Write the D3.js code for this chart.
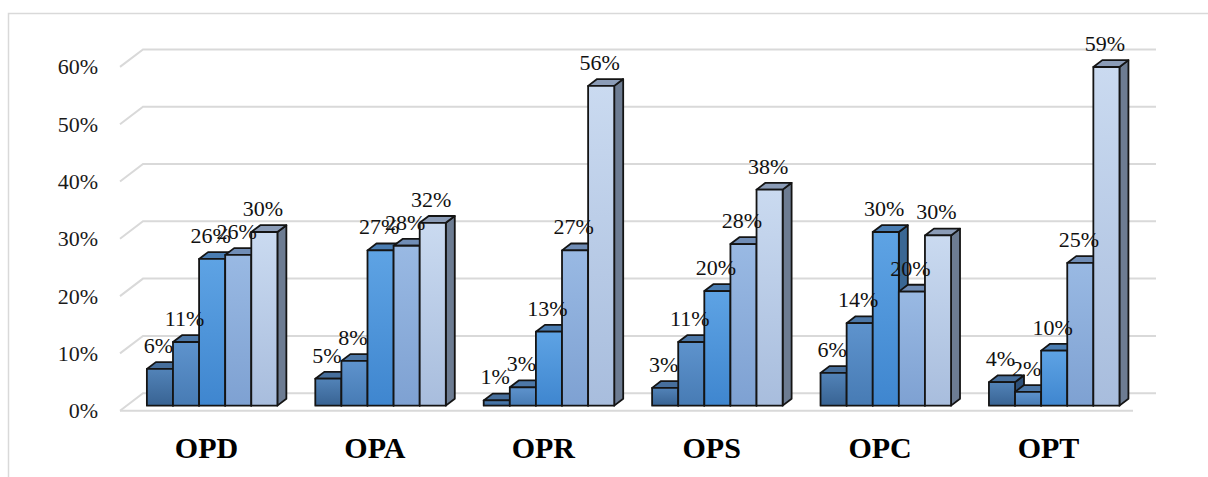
<!DOCTYPE html>
<html>
<head>
<meta charset="utf-8">
<script src="https://cdn.jsdelivr.net/npm/d3@7"></script>
<style>
  html, body { margin: 0; padding: 0; background: #fff; }
  svg { display: block; }
  text { font-family: "Liberation Serif", "Times New Roman", serif; }
</style>
</head>
<body>
<svg id="chart" width="1208" height="477"></svg>
<script>
// Categories along the floor
const categories = ["OPD", "OPA", "OPR", "OPS", "OPC", "OPT"];

// One array per series (share of responses per category)
const series1 = [0.064, 0.047, 0.009, 0.031, 0.057, 0.041];
const series2 = [0.111, 0.078, 0.032, 0.111, 0.144, 0.024];
const series3 = [0.256, 0.271, 0.129, 0.200, 0.303, 0.096];
const series4 = [0.263, 0.279, 0.271, 0.282, 0.199, 0.249];
const series5 = [0.303, 0.319, 0.558, 0.377, 0.297, 0.591];
const seriesValues = [series1, series2, series3, series4, series5];

// Value-axis tick labels
const tickValues = [0, 0.1, 0.2, 0.3, 0.4, 0.5, 0.6];

// Face colours per series: front gradient (top, bottom), top face, side face
const palette = [
  { hi: "#5283b8", lo: "#386393", top: "#476f9c", side: "#2d5079" },
  { hi: "#5e93cd", lo: "#477bb4", top: "#4d78a8", side: "#355c87" },
  { hi: "#5ea3e4", lo: "#3f86cf", top: "#4a7db2", side: "#3a6794" },
  { hi: "#99b9e3", lo: "#7ea1d2", top: "#708db6", side: "#5a7499" },
  { hi: "#cadaf0", lo: "#a8bddd", top: "#8b9cb7", side: "#6d7c92" }
];

const svg = d3.select("#chart");

// Oblique 3D projection: depth pushes points up and to the right
const DX = 23, DY = 17.5;
const D0 = 0.29, D1 = 0.68;   // front and back depth of the columns

const x = d3.scaleBand().domain(categories).range([120, 1133])
  .paddingInner(0.225).paddingOuter(0.12);
const xs = d3.scaleBand().domain(d3.range(seriesValues.length)).range([0, x.bandwidth()]);
const y = d3.scaleLinear().domain([0, 0.6]).range([410.7, 66.9]);

const proj = (px, v, d) => [px + d * DX, y(v) - d * DY];
const poly = pts => "M" + pts.map(p => p.join(",")).join("L") + "Z";

// Chart frame
svg.append("rect")
  .attr("x", 8.5).attr("y", 13.5).attr("width", 1220).attr("height", 490)
  .attr("fill", "none").attr("stroke", "#d9d9d9").attr("stroke-width", 1.5);

// Gradients for the front faces
const defs = svg.append("defs");
palette.forEach((c, i) => {
  const g = defs.append("linearGradient").attr("id", "front" + i)
    .attr("x1", 0).attr("y1", 0).attr("x2", 0).attr("y2", 1);
  g.append("stop").attr("offset", "0%").attr("stop-color", c.hi);
  g.append("stop").attr("offset", "100%").attr("stop-color", c.lo);
});

// Gridlines on the side wall and back wall
const x0 = x.range()[0], x1 = x.range()[1];
const grid = svg.append("g").attr("stroke", "#d9d9d9").attr("stroke-width", 2).attr("fill", "none");
tickValues.forEach(t => {
  const a = proj(x0, t, 0), b = proj(x0, t, 1), c = proj(x1, t, 1);
  grid.append("path").attr("d", `M${a}L${b}L${c}`);
});
// Front edge of the floor
grid.append("path").attr("d", `M${proj(x0, 0, 0)}L${proj(x1, 0, 0)}`);

// Value-axis labels
svg.append("g").selectAll("text").data(tickValues).join("text")
  .attr("x", 98).attr("y", d => y(d))
  .attr("dy", "0.34em")
  .attr("text-anchor", "end")
  .attr("font-size", 22).attr("fill", "#1a1a1a")
  .text(d3.format(".0%"));

// Columns, drawn left to right so each one covers its neighbour's side face
const fmt = d3.format(".0%");
const labels = [];
const bars = svg.append("g").attr("stroke", "#141414").attr("stroke-width", 1.8)
  .attr("stroke-linejoin", "round");
categories.forEach((cat, ci) => {
  seriesValues.forEach((vals, si) => {
    const v = vals[ci];
    const l = x(cat) + xs(si), r = l + xs.bandwidth();
    const c = palette[si];
    const g = bars.append("g");
    g.append("path").attr("fill", c.side)
      .attr("d", poly([proj(r, 0, D0), proj(r, 0, D1), proj(r, v, D1), proj(r, v, D0)]));
    g.append("path").attr("fill", c.top)
      .attr("d", poly([proj(l, v, D0), proj(r, v, D0), proj(r, v, D1), proj(l, v, D1)]));
    g.append("path").attr("fill", `url(#front${si})`)
      .attr("d", poly([proj(l, 0, D0), proj(r, 0, D0), proj(r, v, D0), proj(l, v, D0)]));
    const [fx, fy] = proj((l + r) / 2, v, D0);
    labels.push({ x: fx - 1.5, y: fy - 16, text: fmt(v) });
  });
});

// Data labels on top of everything
svg.append("g").selectAll("text").data(labels).join("text")
  .attr("x", d => d.x).attr("y", d => d.y)
  .attr("text-anchor", "middle")
  .attr("font-size", 22).attr("fill", "#111")
  .text(d => d.text);

// Category labels
svg.append("g").selectAll("text").data(categories).join("text")
  .attr("x", d => x(d) + x.bandwidth() / 2 + 1)
  .attr("y", 458)
  .attr("text-anchor", "middle")
  .attr("font-size", 30).attr("font-weight", "bold").attr("fill", "#000")
  .text(d => d);
</script>
</body>
</html>
